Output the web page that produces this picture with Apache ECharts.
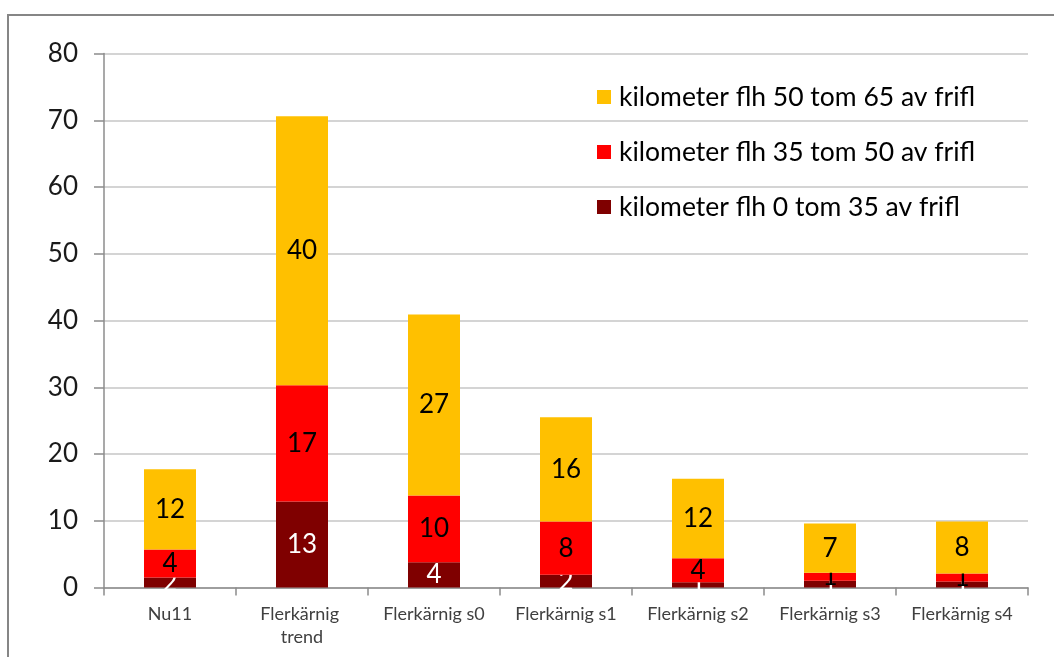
<!DOCTYPE html>
<html>
<head>
<meta charset="utf-8">
<script src="https://cdn.jsdelivr.net/npm/echarts@6/dist/echarts.min.js"></script>
<style>
  html, body { margin: 0; padding: 0; background: #fff; }
  #chart { width: 1054px; height: 657px; }
</style>
</head>
<body>
<div id="chart"></div>
<script>
// Categories along the x axis
const categories = ['Nu11', 'Flerkärnig trend', 'Flerkärnig s0', 'Flerkärnig s1', 'Flerkärnig s2', 'Flerkärnig s3', 'Flerkärnig s4'];

// Series names (distance bands)
const nameLow = 'kilometer flh 0 tom 35 av frifl';
const nameMid = 'kilometer flh 35 tom 50 av frifl';
const nameHigh = 'kilometer flh 50 tom 65 av frifl';

// Stacked values per category
const valuesLow = [1.5, 12.9, 3.8, 1.9, 0.8, 1.0, 0.9];
const valuesMid = [4.2, 17.4, 10.0, 8.0, 3.6, 1.2, 1.2];
const valuesHigh = [12.0, 40.3, 27.1, 15.6, 11.9, 7.4, 7.8];

// Y axis ticks
const yMin = 0, yMax = 80, yStep = 10;

const colors = { low: '#7F0000', mid: '#FF0000', high: '#FFC000' };
const font = 'Lato, "Open Sans", sans-serif';

const chart = echarts.init(document.getElementById('chart'), null, { renderer: 'canvas' });

function barSeries(name, data, color, labelColor, z) {
  return {
    name: name,
    type: 'bar',
    stack: 'total',
    data: data,
    z: z,
    barWidth: 52,
    itemStyle: { color: color },
    label: {
      show: true,
      position: 'inside',
      color: labelColor,
      fontFamily: font,
      fontSize: 26,
      formatter: p => String(Math.round(p.value))
    },
    emphasis: { disabled: true }
  };
}

chart.setOption({
  animation: false,
  backgroundColor: '#fff',
  graphic: [{
    type: 'rect',
    shape: { x: 8, y: 15, width: 1200, height: 800 },
    style: { fill: 'none', stroke: '#868686', lineWidth: 2 },
    silent: true,
    z: 0
  }],
  grid: { left: 104, right: 26, top: 53.5, bottom: 69.5, containLabel: false },
  legend: {
    orient: 'vertical',
    left: 592,
    top: 77,
    itemWidth: 14,
    itemHeight: 14,
    itemGap: 25,
    icon: 'rect',
    selectedMode: false,
    data: [nameHigh, nameMid, nameLow],
    textStyle: {
      fontFamily: font,
      fontSize: 26.5,
      color: '#000',
      lineHeight: 30,
      padding: [0, 0, 0, 3]
    }
  },
  xAxis: {
    type: 'category',
    data: categories,
    axisLine: { lineStyle: { color: '#8c8c8c', width: 1.5 } },
    axisTick: { show: true, length: 8, lineStyle: { color: '#8c8c8c', width: 1.5 } },
    axisLabel: {
      fontFamily: font,
      fontSize: 18,
      color: '#404040',
      margin: 15,
      lineHeight: 23,
      width: 118,
      overflow: 'break',
      interval: 0
    }
  },
  yAxis: {
    type: 'value',
    min: yMin,
    max: yMax,
    interval: yStep,
    axisLine: { show: true, lineStyle: { color: '#8c8c8c', width: 1.5 } },
    axisTick: { show: true, length: 10, lineStyle: { color: '#8c8c8c', width: 1.5 } },
    axisLabel: {
      fontFamily: font,
      fontSize: 26,
      color: '#1a1a1a',
      margin: 26
    },
    splitLine: { show: true, lineStyle: { color: '#d4d4d4', width: 2 } }
  },
  series: [
    barSeries(nameLow, valuesLow, colors.low, '#fff', 3),
    barSeries(nameMid, valuesMid, colors.mid, '#000', 4),
    barSeries(nameHigh, valuesHigh, colors.high, '#000', 5)
  ]
});
</script>
</body>
</html>
